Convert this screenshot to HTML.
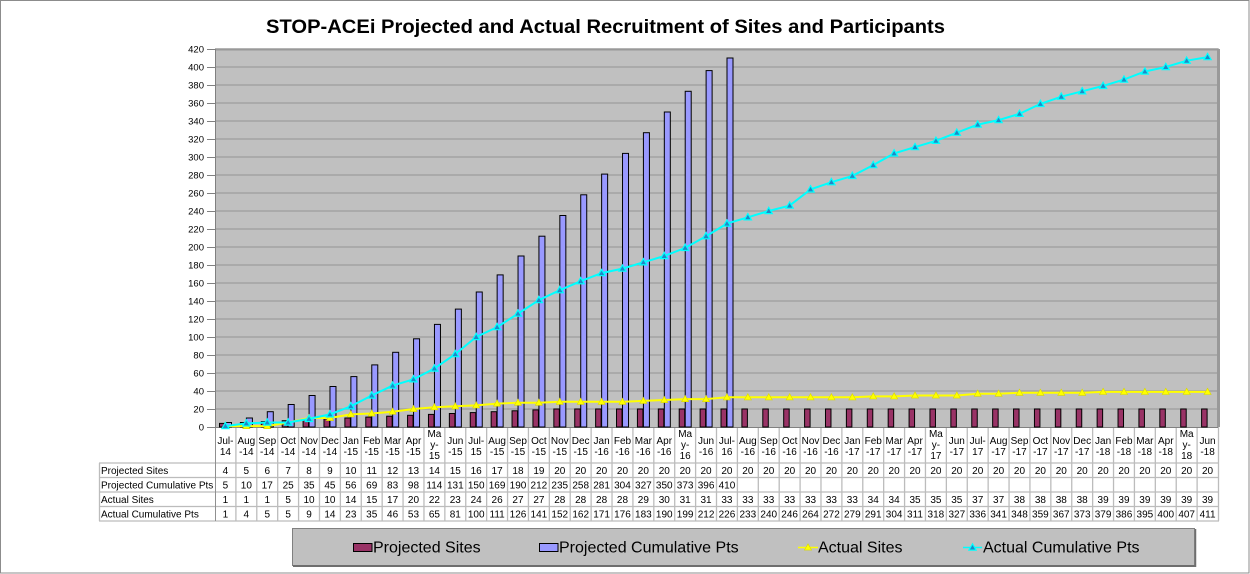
<!DOCTYPE html>
<html><head><meta charset="utf-8"><style>
html,body{margin:0;padding:0;background:#fff;}
svg{display:block;}
.c text{font-family:"Liberation Sans",Arial,sans-serif;font-size:10px;text-anchor:middle;fill:#000;}
.ps{fill:#993366;stroke:#000;stroke-width:1;}
.pc{fill:#9999ff;stroke:#000;stroke-width:1;}
.yl text{font-family:"Liberation Sans",Arial,sans-serif;font-size:9.5px;text-anchor:end;fill:#000;}
.rl text{font-family:"Liberation Sans",Arial,sans-serif;font-size:10px;fill:#000;}
.lg text{font-family:"Liberation Sans",Arial,sans-serif;font-size:16px;fill:#000;}
</style></head><body>
<svg width="1250" height="574" viewBox="0 0 1250 574" xmlns="http://www.w3.org/2000/svg">
<defs>
<marker id="my" markerUnits="userSpaceOnUse" markerWidth="10" markerHeight="10" refX="5" refY="5" viewBox="0 0 10 10"><path d="M5 1.3 L8.6 7.6 L1.4 7.6 Z" fill="#ffff00" stroke="#d8d800" stroke-width="0.6"/></marker>
<marker id="mc" markerUnits="userSpaceOnUse" markerWidth="10" markerHeight="10" refX="5" refY="5" viewBox="0 0 10 10"><path d="M5 1.3 L8.6 7.6 L1.4 7.6 Z" fill="#1e88c8" stroke="#00ffff" stroke-width="1.2"/></marker>
</defs>
<rect x="0.5" y="0.5" width="1248.5" height="572.5" fill="#fff" stroke="#8c8c8c" stroke-width="1"/>
<text x="266" y="33" font-family="Liberation Sans, Arial, sans-serif" font-size="19" font-weight="bold" textLength="679" lengthAdjust="spacingAndGlyphs">STOP-ACEi Projected and Actual Recruitment of Sites and Participants</text>

<!-- plot area -->
<rect x="215" y="49" width="1003" height="378" fill="#c0c0c0"/>
<g stroke="#a2a2a2" stroke-width="1.5">
<line x1="215" y1="49" x2="1218" y2="49"/><line x1="215" y1="67" x2="1218" y2="67"/><line x1="215" y1="85" x2="1218" y2="85"/><line x1="215" y1="103" x2="1218" y2="103"/><line x1="215" y1="121" x2="1218" y2="121"/><line x1="215" y1="139" x2="1218" y2="139"/><line x1="215" y1="157" x2="1218" y2="157"/><line x1="215" y1="175" x2="1218" y2="175"/><line x1="215" y1="193" x2="1218" y2="193"/><line x1="215" y1="211" x2="1218" y2="211"/><line x1="215" y1="229" x2="1218" y2="229"/><line x1="215" y1="247" x2="1218" y2="247"/><line x1="215" y1="265" x2="1218" y2="265"/><line x1="215" y1="283" x2="1218" y2="283"/><line x1="215" y1="301" x2="1218" y2="301"/><line x1="215" y1="319" x2="1218" y2="319"/><line x1="215" y1="337" x2="1218" y2="337"/><line x1="215" y1="355" x2="1218" y2="355"/><line x1="215" y1="373" x2="1218" y2="373"/><line x1="215" y1="391" x2="1218" y2="391"/><line x1="215" y1="409" x2="1218" y2="409"/>
</g>
<line x1="215" y1="49.5" x2="1219" y2="49.5" stroke="#999" stroke-width="2"/>
<line x1="1218.5" y1="49" x2="1218.5" y2="427" stroke="#999" stroke-width="3"/>

<!-- y axis -->
<g stroke="#808080" stroke-width="1">
<line x1="215.5" y1="49" x2="215.5" y2="427"/>
<line x1="207" y1="49.5" x2="215" y2="49.5"/><line x1="207" y1="67.5" x2="215" y2="67.5"/><line x1="207" y1="85.5" x2="215" y2="85.5"/><line x1="207" y1="103.5" x2="215" y2="103.5"/><line x1="207" y1="121.5" x2="215" y2="121.5"/><line x1="207" y1="139.5" x2="215" y2="139.5"/><line x1="207" y1="157.5" x2="215" y2="157.5"/><line x1="207" y1="175.5" x2="215" y2="175.5"/><line x1="207" y1="193.5" x2="215" y2="193.5"/><line x1="207" y1="211.5" x2="215" y2="211.5"/><line x1="207" y1="229.5" x2="215" y2="229.5"/><line x1="207" y1="247.5" x2="215" y2="247.5"/><line x1="207" y1="265.5" x2="215" y2="265.5"/><line x1="207" y1="283.5" x2="215" y2="283.5"/><line x1="207" y1="301.5" x2="215" y2="301.5"/><line x1="207" y1="319.5" x2="215" y2="319.5"/><line x1="207" y1="337.5" x2="215" y2="337.5"/><line x1="207" y1="355.5" x2="215" y2="355.5"/><line x1="207" y1="373.5" x2="215" y2="373.5"/><line x1="207" y1="391.5" x2="215" y2="391.5"/><line x1="207" y1="409.5" x2="215" y2="409.5"/><line x1="207" y1="427.5" x2="215" y2="427.5"/>
</g>
<g class="yl">
<text x="204" y="52.5">420</text><text x="204" y="70.5">400</text><text x="204" y="88.5">380</text><text x="204" y="106.5">360</text><text x="204" y="124.5">340</text><text x="204" y="142.5">320</text><text x="204" y="160.5">300</text><text x="204" y="178.5">280</text><text x="204" y="196.5">260</text><text x="204" y="214.5">240</text><text x="204" y="232.5">220</text><text x="204" y="250.5">200</text><text x="204" y="268.5">180</text><text x="204" y="286.5">160</text><text x="204" y="304.5">140</text><text x="204" y="322.5">120</text><text x="204" y="340.5">100</text><text x="204" y="358.5">80</text><text x="204" y="376.5">60</text><text x="204" y="394.5">40</text><text x="204" y="412.5">20</text><text x="204" y="430.5">0</text>
</g>

<!-- table background -->
<rect x="215" y="427" width="1003" height="94" fill="#fff"/>
<rect x="99" y="463" width="116" height="58" fill="#fff"/>
<g stroke="#bcbcbc" stroke-width="1.3">
<line x1="99" y1="463" x2="1218" y2="463"/><line x1="99" y1="477.5" x2="1218" y2="477.5"/><line x1="99" y1="492" x2="1218" y2="492"/><line x1="99" y1="506.5" x2="1218" y2="506.5"/><line x1="99" y1="521" x2="1219" y2="521"/>
<line x1="99.5" y1="463" x2="99.5" y2="521"/>
<line x1="235.9" y1="427" x2="235.9" y2="521"/><line x1="256.79" y1="427" x2="256.79" y2="521"/><line x1="277.69" y1="427" x2="277.69" y2="521"/><line x1="298.58" y1="427" x2="298.58" y2="521"/><line x1="319.48" y1="427" x2="319.48" y2="521"/><line x1="340.38" y1="427" x2="340.38" y2="521"/><line x1="361.27" y1="427" x2="361.27" y2="521"/><line x1="382.17" y1="427" x2="382.17" y2="521"/><line x1="403.06" y1="427" x2="403.06" y2="521"/><line x1="423.96" y1="427" x2="423.96" y2="521"/><line x1="444.86" y1="427" x2="444.86" y2="521"/><line x1="465.75" y1="427" x2="465.75" y2="521"/><line x1="486.65" y1="427" x2="486.65" y2="521"/><line x1="507.54" y1="427" x2="507.54" y2="521"/><line x1="528.44" y1="427" x2="528.44" y2="521"/><line x1="549.34" y1="427" x2="549.34" y2="521"/><line x1="570.23" y1="427" x2="570.23" y2="521"/><line x1="591.13" y1="427" x2="591.13" y2="521"/><line x1="612.02" y1="427" x2="612.02" y2="521"/><line x1="632.92" y1="427" x2="632.92" y2="521"/><line x1="653.82" y1="427" x2="653.82" y2="521"/><line x1="674.71" y1="427" x2="674.71" y2="521"/><line x1="695.61" y1="427" x2="695.61" y2="521"/><line x1="716.5" y1="427" x2="716.5" y2="521"/><line x1="737.4" y1="427" x2="737.4" y2="521"/><line x1="758.3" y1="427" x2="758.3" y2="521"/><line x1="779.19" y1="427" x2="779.19" y2="521"/><line x1="800.09" y1="427" x2="800.09" y2="521"/><line x1="820.98" y1="427" x2="820.98" y2="521"/><line x1="841.88" y1="427" x2="841.88" y2="521"/><line x1="862.78" y1="427" x2="862.78" y2="521"/><line x1="883.67" y1="427" x2="883.67" y2="521"/><line x1="904.57" y1="427" x2="904.57" y2="521"/><line x1="925.46" y1="427" x2="925.46" y2="521"/><line x1="946.36" y1="427" x2="946.36" y2="521"/><line x1="967.26" y1="427" x2="967.26" y2="521"/><line x1="988.15" y1="427" x2="988.15" y2="521"/><line x1="1009.05" y1="427" x2="1009.05" y2="521"/><line x1="1029.94" y1="427" x2="1029.94" y2="521"/><line x1="1050.84" y1="427" x2="1050.84" y2="521"/><line x1="1071.74" y1="427" x2="1071.74" y2="521"/><line x1="1092.63" y1="427" x2="1092.63" y2="521"/><line x1="1113.53" y1="427" x2="1113.53" y2="521"/><line x1="1134.42" y1="427" x2="1134.42" y2="521"/><line x1="1155.32" y1="427" x2="1155.32" y2="521"/><line x1="1176.22" y1="427" x2="1176.22" y2="521"/><line x1="1197.11" y1="427" x2="1197.11" y2="521"/><line x1="1218.5" y1="427" x2="1218.5" y2="521"/>
</g>
<line x1="215.5" y1="427" x2="215.5" y2="521" stroke="#909090" stroke-width="1"/>
<line x1="215" y1="427.5" x2="1218" y2="427.5" stroke="#808080" stroke-width="1"/>

<g class="rl">
<text x="101" y="474">Projected Sites</text>
<text x="101" y="488.5">Projected Cumulative Pts</text>
<text x="101" y="503">Actual Sites</text>
<text x="101" y="517.5">Actual Cumulative Pts</text>
</g>

<!-- columns -->
<g class="c">
<g transform="translate(215,0)"><rect class="ps" x="4.5" y="423.4" width="5.5" height="3.6"/><rect class="pc" x="10.5" y="422.5" width="6" height="4.5"/><text x="10.45" y="444">Jul-</text><text x="10.45" y="455">14</text><text x="10.45" y="474">4</text><text x="10.45" y="488.5">5</text><text x="10.45" y="503">1</text><text x="10.45" y="517.5">1</text></g>
<g transform="translate(235.9,0)"><rect class="ps" x="4.5" y="422.5" width="5.5" height="4.5"/><rect class="pc" x="10.5" y="418" width="6" height="9"/><text x="10.45" y="444">Aug</text><text x="10.45" y="455">-14</text><text x="10.45" y="474">5</text><text x="10.45" y="488.5">10</text><text x="10.45" y="503">1</text><text x="10.45" y="517.5">4</text></g>
<g transform="translate(256.79,0)"><rect class="ps" x="4.5" y="421.6" width="5.5" height="5.4"/><rect class="pc" x="10.5" y="411.7" width="6" height="15.3"/><text x="10.45" y="444">Sep</text><text x="10.45" y="455">-14</text><text x="10.45" y="474">6</text><text x="10.45" y="488.5">17</text><text x="10.45" y="503">1</text><text x="10.45" y="517.5">5</text></g>
<g transform="translate(277.69,0)"><rect class="ps" x="4.5" y="420.7" width="5.5" height="6.3"/><rect class="pc" x="10.5" y="404.5" width="6" height="22.5"/><text x="10.45" y="444">Oct</text><text x="10.45" y="455">-14</text><text x="10.45" y="474">7</text><text x="10.45" y="488.5">25</text><text x="10.45" y="503">5</text><text x="10.45" y="517.5">5</text></g>
<g transform="translate(298.58,0)"><rect class="ps" x="4.5" y="419.8" width="5.5" height="7.2"/><rect class="pc" x="10.5" y="395.5" width="6" height="31.5"/><text x="10.45" y="444">Nov</text><text x="10.45" y="455">-14</text><text x="10.45" y="474">8</text><text x="10.45" y="488.5">35</text><text x="10.45" y="503">10</text><text x="10.45" y="517.5">9</text></g>
<g transform="translate(319.48,0)"><rect class="ps" x="4.5" y="418.9" width="5.5" height="8.1"/><rect class="pc" x="10.5" y="386.5" width="6" height="40.5"/><text x="10.45" y="444">Dec</text><text x="10.45" y="455">-14</text><text x="10.45" y="474">9</text><text x="10.45" y="488.5">45</text><text x="10.45" y="503">10</text><text x="10.45" y="517.5">14</text></g>
<g transform="translate(340.38,0)"><rect class="ps" x="4.5" y="418" width="5.5" height="9"/><rect class="pc" x="10.5" y="376.6" width="6" height="50.4"/><text x="10.45" y="444">Jan</text><text x="10.45" y="455">-15</text><text x="10.45" y="474">10</text><text x="10.45" y="488.5">56</text><text x="10.45" y="503">14</text><text x="10.45" y="517.5">23</text></g>
<g transform="translate(361.27,0)"><rect class="ps" x="4.5" y="417.1" width="5.5" height="9.9"/><rect class="pc" x="10.5" y="364.9" width="6" height="62.1"/><text x="10.45" y="444">Feb</text><text x="10.45" y="455">-15</text><text x="10.45" y="474">11</text><text x="10.45" y="488.5">69</text><text x="10.45" y="503">15</text><text x="10.45" y="517.5">35</text></g>
<g transform="translate(382.17,0)"><rect class="ps" x="4.5" y="416.2" width="5.5" height="10.8"/><rect class="pc" x="10.5" y="352.3" width="6" height="74.7"/><text x="10.45" y="444">Mar</text><text x="10.45" y="455">-15</text><text x="10.45" y="474">12</text><text x="10.45" y="488.5">83</text><text x="10.45" y="503">17</text><text x="10.45" y="517.5">46</text></g>
<g transform="translate(403.06,0)"><rect class="ps" x="4.5" y="415.3" width="5.5" height="11.7"/><rect class="pc" x="10.5" y="338.8" width="6" height="88.2"/><text x="10.45" y="444">Apr</text><text x="10.45" y="455">-15</text><text x="10.45" y="474">13</text><text x="10.45" y="488.5">98</text><text x="10.45" y="503">20</text><text x="10.45" y="517.5">53</text></g>
<g transform="translate(423.96,0)"><rect class="ps" x="4.5" y="414.4" width="5.5" height="12.6"/><rect class="pc" x="10.5" y="324.4" width="6" height="102.6"/><text x="10.45" y="437">Ma</text><text x="10.45" y="448">y-</text><text x="10.45" y="459">15</text><text x="10.45" y="474">14</text><text x="10.45" y="488.5">114</text><text x="10.45" y="503">22</text><text x="10.45" y="517.5">65</text></g>
<g transform="translate(444.86,0)"><rect class="ps" x="4.5" y="413.5" width="5.5" height="13.5"/><rect class="pc" x="10.5" y="309.1" width="6" height="117.9"/><text x="10.45" y="444">Jun</text><text x="10.45" y="455">-15</text><text x="10.45" y="474">15</text><text x="10.45" y="488.5">131</text><text x="10.45" y="503">23</text><text x="10.45" y="517.5">81</text></g>
<g transform="translate(465.75,0)"><rect class="ps" x="4.5" y="412.6" width="5.5" height="14.4"/><rect class="pc" x="10.5" y="292" width="6" height="135"/><text x="10.45" y="444">Jul-</text><text x="10.45" y="455">15</text><text x="10.45" y="474">16</text><text x="10.45" y="488.5">150</text><text x="10.45" y="503">24</text><text x="10.45" y="517.5">100</text></g>
<g transform="translate(486.65,0)"><rect class="ps" x="4.5" y="411.7" width="5.5" height="15.3"/><rect class="pc" x="10.5" y="274.9" width="6" height="152.1"/><text x="10.45" y="444">Aug</text><text x="10.45" y="455">-15</text><text x="10.45" y="474">17</text><text x="10.45" y="488.5">169</text><text x="10.45" y="503">26</text><text x="10.45" y="517.5">111</text></g>
<g transform="translate(507.54,0)"><rect class="ps" x="4.5" y="410.8" width="5.5" height="16.2"/><rect class="pc" x="10.5" y="256" width="6" height="171"/><text x="10.45" y="444">Sep</text><text x="10.45" y="455">-15</text><text x="10.45" y="474">18</text><text x="10.45" y="488.5">190</text><text x="10.45" y="503">27</text><text x="10.45" y="517.5">126</text></g>
<g transform="translate(528.44,0)"><rect class="ps" x="4.5" y="409.9" width="5.5" height="17.1"/><rect class="pc" x="10.5" y="236.2" width="6" height="190.8"/><text x="10.45" y="444">Oct</text><text x="10.45" y="455">-15</text><text x="10.45" y="474">19</text><text x="10.45" y="488.5">212</text><text x="10.45" y="503">27</text><text x="10.45" y="517.5">141</text></g>
<g transform="translate(549.34,0)"><rect class="ps" x="4.5" y="409" width="5.5" height="18"/><rect class="pc" x="10.5" y="215.5" width="6" height="211.5"/><text x="10.45" y="444">Nov</text><text x="10.45" y="455">-15</text><text x="10.45" y="474">20</text><text x="10.45" y="488.5">235</text><text x="10.45" y="503">28</text><text x="10.45" y="517.5">152</text></g>
<g transform="translate(570.23,0)"><rect class="ps" x="4.5" y="409" width="5.5" height="18"/><rect class="pc" x="10.5" y="194.8" width="6" height="232.2"/><text x="10.45" y="444">Dec</text><text x="10.45" y="455">-15</text><text x="10.45" y="474">20</text><text x="10.45" y="488.5">258</text><text x="10.45" y="503">28</text><text x="10.45" y="517.5">162</text></g>
<g transform="translate(591.13,0)"><rect class="ps" x="4.5" y="409" width="5.5" height="18"/><rect class="pc" x="10.5" y="174.1" width="6" height="252.9"/><text x="10.45" y="444">Jan</text><text x="10.45" y="455">-16</text><text x="10.45" y="474">20</text><text x="10.45" y="488.5">281</text><text x="10.45" y="503">28</text><text x="10.45" y="517.5">171</text></g>
<g transform="translate(612.02,0)"><rect class="ps" x="4.5" y="409" width="5.5" height="18"/><rect class="pc" x="10.5" y="153.4" width="6" height="273.6"/><text x="10.45" y="444">Feb</text><text x="10.45" y="455">-16</text><text x="10.45" y="474">20</text><text x="10.45" y="488.5">304</text><text x="10.45" y="503">28</text><text x="10.45" y="517.5">176</text></g>
<g transform="translate(632.92,0)"><rect class="ps" x="4.5" y="409" width="5.5" height="18"/><rect class="pc" x="10.5" y="132.7" width="6" height="294.3"/><text x="10.45" y="444">Mar</text><text x="10.45" y="455">-16</text><text x="10.45" y="474">20</text><text x="10.45" y="488.5">327</text><text x="10.45" y="503">29</text><text x="10.45" y="517.5">183</text></g>
<g transform="translate(653.82,0)"><rect class="ps" x="4.5" y="409" width="5.5" height="18"/><rect class="pc" x="10.5" y="112" width="6" height="315"/><text x="10.45" y="444">Apr</text><text x="10.45" y="455">-16</text><text x="10.45" y="474">20</text><text x="10.45" y="488.5">350</text><text x="10.45" y="503">30</text><text x="10.45" y="517.5">190</text></g>
<g transform="translate(674.71,0)"><rect class="ps" x="4.5" y="409" width="5.5" height="18"/><rect class="pc" x="10.5" y="91.3" width="6" height="335.7"/><text x="10.45" y="437">Ma</text><text x="10.45" y="448">y-</text><text x="10.45" y="459">16</text><text x="10.45" y="474">20</text><text x="10.45" y="488.5">373</text><text x="10.45" y="503">31</text><text x="10.45" y="517.5">199</text></g>
<g transform="translate(695.61,0)"><rect class="ps" x="4.5" y="409" width="5.5" height="18"/><rect class="pc" x="10.5" y="70.6" width="6" height="356.4"/><text x="10.45" y="444">Jun</text><text x="10.45" y="455">-16</text><text x="10.45" y="474">20</text><text x="10.45" y="488.5">396</text><text x="10.45" y="503">31</text><text x="10.45" y="517.5">212</text></g>
<g transform="translate(716.5,0)"><rect class="ps" x="4.5" y="409" width="5.5" height="18"/><rect class="pc" x="10.5" y="58" width="6" height="369"/><text x="10.45" y="444">Jul-</text><text x="10.45" y="455">16</text><text x="10.45" y="474">20</text><text x="10.45" y="488.5">410</text><text x="10.45" y="503">33</text><text x="10.45" y="517.5">226</text></g>
<g transform="translate(737.4,0)"><rect class="ps" x="4.5" y="409" width="5.5" height="18"/><text x="10.45" y="444">Aug</text><text x="10.45" y="455">-16</text><text x="10.45" y="474">20</text><text x="10.45" y="503">33</text><text x="10.45" y="517.5">233</text></g>
<g transform="translate(758.3,0)"><rect class="ps" x="4.5" y="409" width="5.5" height="18"/><text x="10.45" y="444">Sep</text><text x="10.45" y="455">-16</text><text x="10.45" y="474">20</text><text x="10.45" y="503">33</text><text x="10.45" y="517.5">240</text></g>
<g transform="translate(779.19,0)"><rect class="ps" x="4.5" y="409" width="5.5" height="18"/><text x="10.45" y="444">Oct</text><text x="10.45" y="455">-16</text><text x="10.45" y="474">20</text><text x="10.45" y="503">33</text><text x="10.45" y="517.5">246</text></g>
<g transform="translate(800.09,0)"><rect class="ps" x="4.5" y="409" width="5.5" height="18"/><text x="10.45" y="444">Nov</text><text x="10.45" y="455">-16</text><text x="10.45" y="474">20</text><text x="10.45" y="503">33</text><text x="10.45" y="517.5">264</text></g>
<g transform="translate(820.98,0)"><rect class="ps" x="4.5" y="409" width="5.5" height="18"/><text x="10.45" y="444">Dec</text><text x="10.45" y="455">-16</text><text x="10.45" y="474">20</text><text x="10.45" y="503">33</text><text x="10.45" y="517.5">272</text></g>
<g transform="translate(841.88,0)"><rect class="ps" x="4.5" y="409" width="5.5" height="18"/><text x="10.45" y="444">Jan</text><text x="10.45" y="455">-17</text><text x="10.45" y="474">20</text><text x="10.45" y="503">33</text><text x="10.45" y="517.5">279</text></g>
<g transform="translate(862.78,0)"><rect class="ps" x="4.5" y="409" width="5.5" height="18"/><text x="10.45" y="444">Feb</text><text x="10.45" y="455">-17</text><text x="10.45" y="474">20</text><text x="10.45" y="503">34</text><text x="10.45" y="517.5">291</text></g>
<g transform="translate(883.67,0)"><rect class="ps" x="4.5" y="409" width="5.5" height="18"/><text x="10.45" y="444">Mar</text><text x="10.45" y="455">-17</text><text x="10.45" y="474">20</text><text x="10.45" y="503">34</text><text x="10.45" y="517.5">304</text></g>
<g transform="translate(904.57,0)"><rect class="ps" x="4.5" y="409" width="5.5" height="18"/><text x="10.45" y="444">Apr</text><text x="10.45" y="455">-17</text><text x="10.45" y="474">20</text><text x="10.45" y="503">35</text><text x="10.45" y="517.5">311</text></g>
<g transform="translate(925.46,0)"><rect class="ps" x="4.5" y="409" width="5.5" height="18"/><text x="10.45" y="437">Ma</text><text x="10.45" y="448">y-</text><text x="10.45" y="459">17</text><text x="10.45" y="474">20</text><text x="10.45" y="503">35</text><text x="10.45" y="517.5">318</text></g>
<g transform="translate(946.36,0)"><rect class="ps" x="4.5" y="409" width="5.5" height="18"/><text x="10.45" y="444">Jun</text><text x="10.45" y="455">-17</text><text x="10.45" y="474">20</text><text x="10.45" y="503">35</text><text x="10.45" y="517.5">327</text></g>
<g transform="translate(967.26,0)"><rect class="ps" x="4.5" y="409" width="5.5" height="18"/><text x="10.45" y="444">Jul-</text><text x="10.45" y="455">17</text><text x="10.45" y="474">20</text><text x="10.45" y="503">37</text><text x="10.45" y="517.5">336</text></g>
<g transform="translate(988.15,0)"><rect class="ps" x="4.5" y="409" width="5.5" height="18"/><text x="10.45" y="444">Aug</text><text x="10.45" y="455">-17</text><text x="10.45" y="474">20</text><text x="10.45" y="503">37</text><text x="10.45" y="517.5">341</text></g>
<g transform="translate(1009.05,0)"><rect class="ps" x="4.5" y="409" width="5.5" height="18"/><text x="10.45" y="444">Sep</text><text x="10.45" y="455">-17</text><text x="10.45" y="474">20</text><text x="10.45" y="503">38</text><text x="10.45" y="517.5">348</text></g>
<g transform="translate(1029.94,0)"><rect class="ps" x="4.5" y="409" width="5.5" height="18"/><text x="10.45" y="444">Oct</text><text x="10.45" y="455">-17</text><text x="10.45" y="474">20</text><text x="10.45" y="503">38</text><text x="10.45" y="517.5">359</text></g>
<g transform="translate(1050.84,0)"><rect class="ps" x="4.5" y="409" width="5.5" height="18"/><text x="10.45" y="444">Nov</text><text x="10.45" y="455">-17</text><text x="10.45" y="474">20</text><text x="10.45" y="503">38</text><text x="10.45" y="517.5">367</text></g>
<g transform="translate(1071.74,0)"><rect class="ps" x="4.5" y="409" width="5.5" height="18"/><text x="10.45" y="444">Dec</text><text x="10.45" y="455">-17</text><text x="10.45" y="474">20</text><text x="10.45" y="503">38</text><text x="10.45" y="517.5">373</text></g>
<g transform="translate(1092.63,0)"><rect class="ps" x="4.5" y="409" width="5.5" height="18"/><text x="10.45" y="444">Jan</text><text x="10.45" y="455">-18</text><text x="10.45" y="474">20</text><text x="10.45" y="503">39</text><text x="10.45" y="517.5">379</text></g>
<g transform="translate(1113.53,0)"><rect class="ps" x="4.5" y="409" width="5.5" height="18"/><text x="10.45" y="444">Feb</text><text x="10.45" y="455">-18</text><text x="10.45" y="474">20</text><text x="10.45" y="503">39</text><text x="10.45" y="517.5">386</text></g>
<g transform="translate(1134.42,0)"><rect class="ps" x="4.5" y="409" width="5.5" height="18"/><text x="10.45" y="444">Mar</text><text x="10.45" y="455">-18</text><text x="10.45" y="474">20</text><text x="10.45" y="503">39</text><text x="10.45" y="517.5">395</text></g>
<g transform="translate(1155.32,0)"><rect class="ps" x="4.5" y="409" width="5.5" height="18"/><text x="10.45" y="444">Apr</text><text x="10.45" y="455">-18</text><text x="10.45" y="474">20</text><text x="10.45" y="503">39</text><text x="10.45" y="517.5">400</text></g>
<g transform="translate(1176.22,0)"><rect class="ps" x="4.5" y="409" width="5.5" height="18"/><text x="10.45" y="437">Ma</text><text x="10.45" y="448">y-</text><text x="10.45" y="459">18</text><text x="10.45" y="474">20</text><text x="10.45" y="503">39</text><text x="10.45" y="517.5">407</text></g>
<g transform="translate(1197.11,0)"><rect class="ps" x="4.5" y="409" width="5.5" height="18"/><text x="10.45" y="444">Jun</text><text x="10.45" y="455">-18</text><text x="10.45" y="474">20</text><text x="10.45" y="503">39</text><text x="10.45" y="517.5">411</text></g>
</g>

<!-- Actual Sites line -->
<polyline fill="none" stroke="#ffff00" stroke-width="2" marker-start="url(#my)" marker-mid="url(#my)" marker-end="url(#my)" points="225.45,426.1 246.34,426.1 267.24,426.1 288.14,422.5 309.03,418 329.93,418 350.82,414.4 371.72,413.5 392.62,411.7 413.51,409 434.41,407.2 455.30,406.3 476.20,405.4 497.10,403.6 517.99,402.7 538.89,402.7 559.78,401.8 580.68,401.8 601.58,401.8 622.47,401.8 643.37,400.9 664.26,400 685.16,399.1 706.06,399.1 726.95,397.3 747.85,397.3 768.74,397.3 789.64,397.3 810.54,397.3 831.43,397.3 852.33,397.3 873.22,396.4 894.12,396.4 915.02,395.5 935.91,395.5 956.81,395.5 977.70,393.7 998.60,393.7 1019.50,392.8 1040.39,392.8 1061.29,392.8 1082.18,392.8 1103.08,391.9 1123.98,391.9 1144.87,391.9 1165.77,391.9 1186.66,391.9 1207.56,391.9"/>
<!-- Actual Cumulative line -->
<polyline fill="none" stroke="#00ffff" stroke-width="2" marker-start="url(#mc)" marker-mid="url(#mc)" marker-end="url(#mc)" points="225.45,426.1 246.34,423.4 267.24,422.5 288.14,422.5 309.03,418.9 329.93,414.4 350.82,406.3 371.72,395.5 392.62,385.6 413.51,379.3 434.41,368.5 455.30,354.1 476.20,337 497.10,327.1 517.99,313.6 538.89,300.1 559.78,290.2 580.68,281.2 601.58,273.1 622.47,268.6 643.37,262.3 664.26,256 685.16,247.9 706.06,236.2 726.95,223.6 747.85,217.3 768.74,211 789.64,205.6 810.54,189.4 831.43,182.2 852.33,175.9 873.22,165.1 894.12,153.4 915.02,147.1 935.91,140.8 956.81,132.7 977.70,124.6 998.60,120.1 1019.50,113.8 1040.39,103.9 1061.29,96.7 1082.18,91.3 1103.08,85.9 1123.98,79.6 1144.87,71.5 1165.77,67 1186.66,60.7 1207.56,57.1"/>

<!-- legend -->
<rect x="292.5" y="528.5" width="902" height="37" fill="#c0c0c0" stroke="#808080" stroke-width="1"/>
<line x1="293" y1="566" x2="1196" y2="566" stroke="#6e6e6e" stroke-width="2"/>
<line x1="1195.5" y1="529" x2="1195.5" y2="567" stroke="#6e6e6e" stroke-width="1.5"/>
<g class="lg">
<rect x="353.5" y="543.5" width="18.5" height="8" fill="#993366" stroke="#000" stroke-width="1"/>
<text x="373" y="552.5">Projected Sites</text>
<rect x="539.5" y="543.5" width="18.5" height="8" fill="#9999ff" stroke="#000" stroke-width="1"/>
<text x="559" y="552.5">Projected Cumulative Pts</text>
<polyline fill="none" stroke="#ffff00" stroke-width="1.5" marker-mid="url(#my)" points="798,547.5 808,547.5 818,547.5"/>
<text x="818" y="552.5">Actual Sites</text>
<polyline fill="none" stroke="#00ffff" stroke-width="1.5" marker-mid="url(#mc)" points="963,547.5 972.5,547.5 982,547.5"/>
<text x="983" y="552.5">Actual Cumulative Pts</text>
</g>
</svg>
</body></html>
